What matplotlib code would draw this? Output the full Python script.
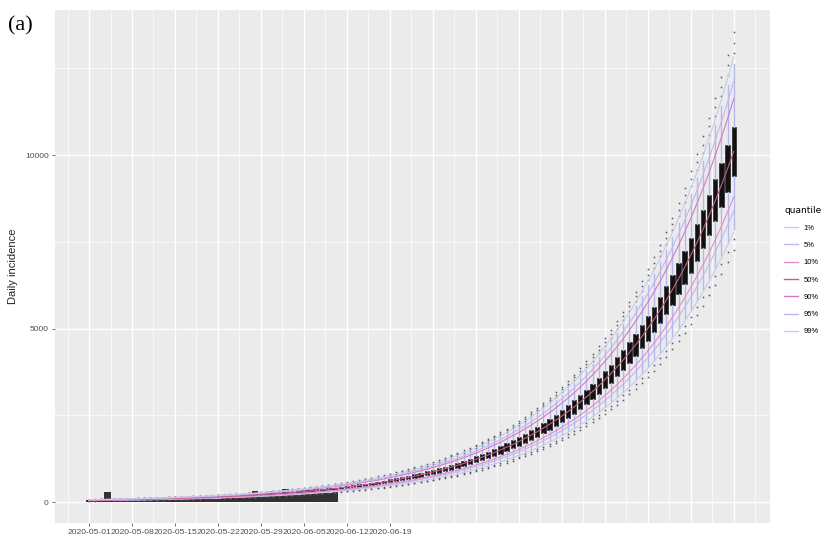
import numpy as np
import matplotlib
matplotlib.use('Agg')
import matplotlib.pyplot as plt
from matplotlib.lines import Line2D

# simulated daily incidence (median of runs), one value per day from 2020-05-01
median_inc = [52, 55, 58, 60, 64, 67, 70, 74, 78, 82, 86, 90, 95, 100, 105, 110,
              116, 122, 128, 135, 142, 149, 157, 165, 173, 182, 192, 201, 212, 223,
              234, 246, 259, 272, 286, 301, 316, 333, 350, 368, 387, 407, 428, 450,
              473, 497, 523, 550, 578, 608, 639, 672, 707, 743, 781, 822, 864, 908,
              955, 1004, 1056, 1110, 1167, 1227, 1291, 1357, 1427, 1500, 1577, 1659,
              1744, 1834, 1928, 2028, 2132, 2242, 2357, 2478, 2606, 2740, 2881, 3029,
              3185, 3349, 3522, 3703, 3894, 4094, 4305, 4527, 4760, 5005, 5262, 5533,
              5818, 6118, 6432, 6764, 7112, 7478, 7863, 8268, 8693, 9141, 9611, 10106]

# observed daily cases, 2020-05-01 .. 2020-06-10
obs_inc = [60, 40, 70, 280, 40, 50, 45, 55, 60, 110, 100, 60, 70, 65, 70, 80,
           75, 90, 80, 90, 95, 100, 110, 120, 125, 135, 145, 320, 160, 300, 305,
           185, 370, 200, 215, 340, 345, 390, 250, 265, 280]

# spread of the simulated runs relative to the median
quantile_labels = ['1%', '5%', '10%', '50%', '90%', '95%', '99%']
quantile_ratio = [0.77, 0.83, 0.87, 1.0, 1.15, 1.20, 1.27]
box_ratio = [0.93, 1.07]
whisker_ratio = [0.78, 1.25]
outlier_ratio = [0.72, 0.75, 1.28, 1.31, 1.34]

date_labels = ['2020-05-01', '2020-05-08', '2020-05-15', '2020-05-22',
               '2020-05-29', '2020-06-05', '2020-06-12', '2020-06-19']

quantile_colors = ['#c6cbf0', '#c4b6f0', '#e48cc6', '#c85a88', '#d679c8', '#c2b6ee', '#c6cbf0']

days = np.arange(len(median_inc))
med = np.array(median_inc, dtype=float)

fig = plt.figure(figsize=(8.25, 5.41), dpi=100)
ax = fig.add_axes([55/825, 1 - 523/541, 715/825, 513/541])
ax.set_facecolor('#ebebeb')
for s in ax.spines.values():
    s.set_visible(False)

# panel grid
for d in np.arange(-3.5, 110, 7):
    ax.axvline(d, color='white', lw=0.5, zorder=0)
for d in np.arange(0, 110, 7):
    ax.axvline(d, color='white', lw=1.0, zorder=0)
for v in [2500, 7500, 12500]:
    ax.axhline(v, color='white', lw=0.5, zorder=0)
for v in [0, 5000, 10000]:
    ax.axhline(v, color='white', lw=1.0, zorder=0)

# observed counts
ax.bar(np.arange(len(obs_inc)), obs_inc, width=1.0, color='#333333', zorder=1)

# boxplots of the simulated runs
stats = []
for m in med:
    stats.append(dict(med=m, q1=m * box_ratio[0], q3=m * box_ratio[1],
                      whislo=m * whisker_ratio[0], whishi=m * whisker_ratio[1],
                      fliers=[m * r for r in outlier_ratio]))
ax.bxp(stats, positions=days, widths=0.7, patch_artist=True, showcaps=False,
       manage_ticks=False,
       boxprops=dict(facecolor='#111111', edgecolor='#111111', linewidth=0.4),
       medianprops=dict(color='#111111', linewidth=0.4),
       whiskerprops=dict(color='#b4b8ea', linewidth=1.0),
       flierprops=dict(marker='s', markersize=1.1, markerfacecolor='#555555',
                       markeredgecolor='none'),
       zorder=2)

# quantile lines
handles = []
for lab, r, c in zip(quantile_labels, quantile_ratio, quantile_colors):
    ax.plot(days, med * r, color=c, lw=0.8, zorder=3)
    handles.append(Line2D([], [], color=c, lw=1.0))

ax.set_xlim(-5.54, 110.9)
ax.set_ylim(-605, 14180)

ax.set_xticks(np.arange(0, 7 * len(date_labels), 7))
ax.set_xticklabels(date_labels, fontsize=6.1, color='#4d4d4d', family='Liberation Sans')
ax.set_yticks([0, 5000, 10000])
ax.set_yticklabels(['0', '5000', '10000'], fontsize=6, color='#4d4d4d', family='Liberation Sans')
ax.tick_params(length=2.5, width=0.5, color='#333333', pad=2)
ax.set_ylabel('Daily incidence', fontsize=8, color='#222222', family='Liberation Sans', labelpad=5)

fig.text(8/825, 1 - 30/541, '(a)', fontsize=16, family='Liberation Serif')

leg = fig.legend(handles, quantile_labels, title='quantile', loc='center left',
                 bbox_to_anchor=(0.942, 0.5), frameon=False,
                 title_fontsize=6.5, handlelength=1.8, labelspacing=1.3,
                 alignment='left', prop={'family': 'Liberation Sans', 'size': 5.5})

fig.savefig('out.png', dpi=100)
